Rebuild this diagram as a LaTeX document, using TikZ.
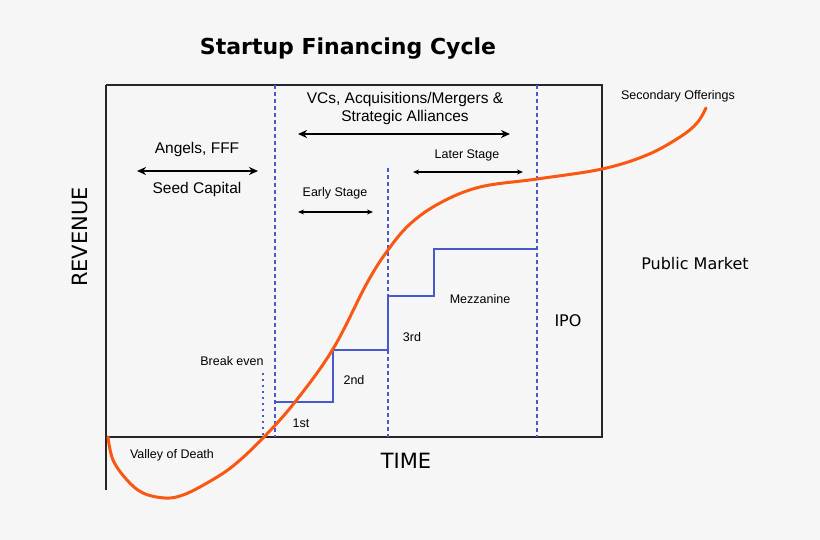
\documentclass[tikz,border=0pt]{standalone}
\usepackage{fontspec}
\setmainfont{Liberation Sans}
\newfontfamily\dejavu{DejaVu Sans}
\usetikzlibrary{arrows.meta}

\definecolor{bgGray}{RGB}{246,246,246}
\definecolor{curveOrange}{RGB}{250,88,18}
\definecolor{stageBlue}{RGB}{72,88,205}

\begin{document}
\begin{tikzpicture}[x=1pt,y=-1pt,
  lbl/.style={inner sep=0pt,font=\fontsize{15.5}{18}\selectfont},
  small/.style={inner sep=0pt,font=\fontsize{12.5}{15}\selectfont},
  big/.style={inner sep=0pt,font=\dejavu\fontsize{16}{19}\selectfont},
  axislbl/.style={inner sep=0pt,font=\dejavu\fontsize{21}{24}\selectfont},
  span/.style={{Stealth[length=9pt,width=8pt]}-{Stealth[length=9pt,width=8pt]},line width=1.8pt},
  spansmall/.style={{Stealth[length=6pt,width=5pt]}-{Stealth[length=6pt,width=5pt]},line width=1.2pt},
  divider/.style={stageBlue,dashed,line width=1.2pt,dash pattern=on 4pt off 3pt},
  step line/.style={stageBlue,line width=1.5pt}]
\useasboundingbox[fill=bgGray] (0,0) rectangle (820,540);

% frame and axes
\draw[line width=1.8pt,black!85] (106,85) -- (602,85) -- (602,437) -- (106,437);
\draw[line width=2pt,black!85] (106,85) -- (106,490);

% stage dividers
\draw[divider] (275,85) -- (275,437);
\draw[divider] (388,168) -- (388,437);
\draw[divider] (537,85) -- (537,437);
\draw[stageBlue,line width=1.2pt,dash pattern=on 2pt off 4pt] (263,373) -- (263,437);

% funding rounds
\draw[step line] (275,402) -- (333,402) -- (333,350) -- (388,350) -- (388,296)
  -- (434,296) -- (434,249) -- (537,249);

% revenue curve
\draw[curveOrange,line width=3pt,line cap=round] plot[smooth,tension=0.6] coordinates {
  (108,437) (113,460) (127,480) (143,493) (165,498) (183,495) (207,483)
  (233,466) (263,438) (295,402) (333,349) (367,283) (388,250) (410,224)
  (440,203) (480,187) (537,179) (602,169) (647,155) (680,137)
  (697,123) (706,108)};

% texts
\node[inner sep=0pt,font=\dejavu\bfseries\fontsize{22}{26}\selectfont] (title) at (348,49) {Startup Financing Cycle};
\node[axislbl,rotate=90] (revenue) at (80,237) {REVENUE};
\node[axislbl] (time) at (406,461) {TIME};
\node[lbl] (angels) at (197,149) {Angels, FFF};
\node[lbl] (seed) at (197,189) {Seed Capital};
\node[lbl] (vcs) at (405,99) {VCs, Acquisitions/Mergers \&};
\node[lbl] (alliances) at (405,117) {Strategic Alliances};
\node[small] (early) at (335,193) {Early Stage};
\node[small] (later) at (467,155) {Later Stage};
\node[small] (secondary) at (678,96) {Secondary Offerings};
\node[big] (public) at (695,264) {Public Market};
\node[big] (ipo) at (568,321) {IPO};
\node[small] (mezz) at (480,299) {Mezzanine};
\node[small] (third) at (412,337) {3rd};
\node[small] (second) at (354,380) {2nd};
\node[small] (first) at (301,423) {1st};
\node[small] (breakeven) at (232,361) {Break even};
\node[small] (valley) at (172,455) {Valley of Death};

% stage spans
\coordinate (seedL) at (137,171);
\coordinate (seedR) at (258,171);
\coordinate (vcL) at (298,134);
\coordinate (vcR) at (510,134);
\coordinate (earlyL) at (298,212);
\coordinate (earlyR) at (373,212);
\coordinate (laterL) at (413,172);
\coordinate (laterR) at (523,172);
\draw[span] (seedL) -- (seedR);
\draw[span] (vcL) -- (vcR);
\draw[spansmall] (earlyL) -- (earlyR);
\draw[spansmall] (laterL) -- (laterR);
\end{tikzpicture}
\end{document}
